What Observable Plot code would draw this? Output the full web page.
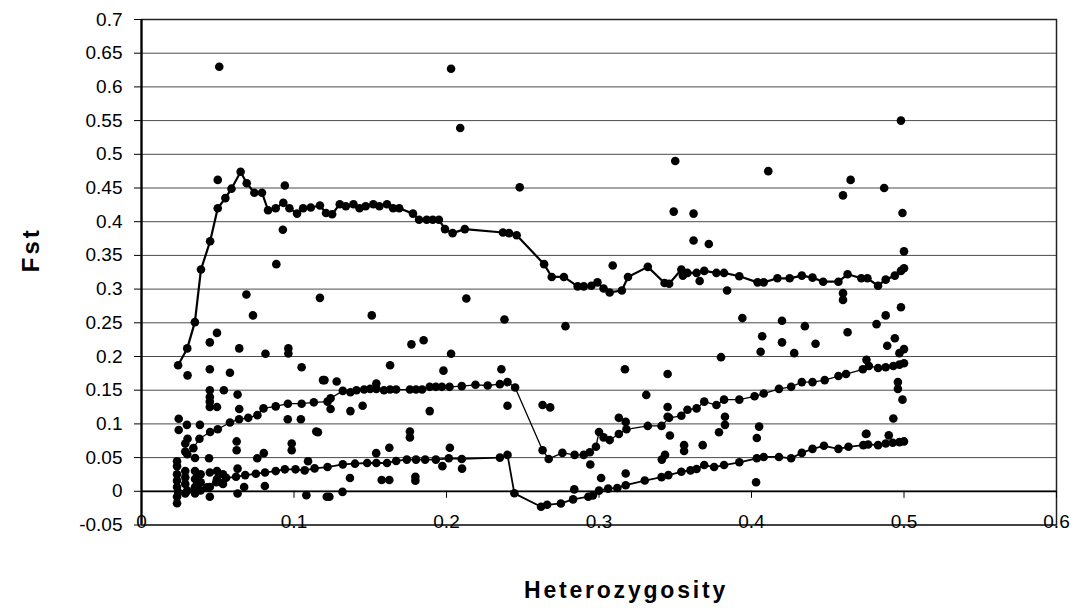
<!DOCTYPE html>
<html><head><meta charset="utf-8">
<script src="https://cdn.jsdelivr.net/npm/d3@7"></script>
<script src="https://cdn.jsdelivr.net/npm/@observablehq/plot@0.6"></script>
<style>
body{margin:0;background:#fff;}
#chart{width:1091px;height:608px;}
</style></head><body><div id="chart"></div>
<script>
const upperLine = [[0.024,0.187],[0.030,0.212],[0.035,0.251],[0.039,0.329],[0.045,0.371],[0.050,0.420],[0.055,0.435],[0.059,0.449],[0.065,0.474],[0.069,0.457],[0.074,0.443],[0.079,0.443],[0.083,0.417],[0.088,0.420],[0.093,0.428],[0.097,0.420],[0.102,0.412],[0.106,0.420],[0.111,0.421],[0.117,0.424],[0.121,0.413],[0.125,0.411],[0.130,0.426],[0.134,0.423],[0.139,0.426],[0.143,0.420],[0.147,0.423],[0.152,0.426],[0.156,0.423],[0.161,0.426],[0.165,0.420],[0.169,0.420],[0.178,0.412],[0.182,0.403],[0.187,0.403],[0.191,0.403],[0.195,0.403],[0.199,0.389],[0.204,0.383],[0.212,0.389],[0.237,0.384],[0.241,0.383],[0.246,0.380],[0.264,0.337],[0.269,0.318],[0.277,0.318],[0.286,0.304],[0.290,0.304],[0.295,0.305],[0.299,0.310],[0.303,0.301],[0.307,0.295],[0.315,0.298],[0.319,0.318],[0.332,0.333],[0.343,0.309],[0.346,0.308],[0.354,0.329],[0.355,0.320],[0.358,0.324],[0.364,0.324],[0.369,0.327],[0.377,0.324],[0.382,0.324],[0.392,0.319],[0.404,0.310],[0.408,0.310],[0.417,0.316],[0.425,0.316],[0.433,0.320],[0.440,0.317],[0.447,0.311],[0.457,0.311],[0.463,0.322],[0.472,0.316],[0.476,0.316],[0.483,0.305],[0.488,0.314],[0.494,0.320],[0.498,0.327],[0.500,0.331]];

const middleLine = [[0.030,0.055],[0.034,0.064],[0.038,0.078],[0.045,0.088],[0.050,0.092],[0.058,0.102],[0.064,0.107],[0.070,0.109],[0.076,0.113],[0.080,0.123],[0.088,0.126],[0.096,0.130],[0.105,0.130],[0.113,0.132],[0.122,0.133],[0.124,0.138],[0.132,0.149],[0.137,0.147],[0.141,0.150],[0.146,0.151],[0.150,0.152],[0.154,0.152],[0.159,0.150],[0.163,0.151],[0.167,0.151],[0.176,0.151],[0.180,0.151],[0.184,0.151],[0.189,0.155],[0.193,0.155],[0.197,0.155],[0.202,0.155],[0.210,0.156],[0.219,0.158],[0.227,0.157],[0.235,0.159],[0.240,0.162],[0.245,0.154],[0.263,0.061],[0.267,0.048],[0.276,0.057],[0.284,0.054],[0.290,0.054],[0.294,0.058],[0.298,0.066],[0.300,0.088],[0.303,0.080],[0.307,0.076],[0.313,0.085],[0.318,0.092],[0.332,0.097],[0.341,0.097],[0.346,0.109],[0.354,0.112],[0.358,0.121],[0.364,0.123],[0.369,0.133],[0.377,0.128],[0.382,0.136],[0.392,0.136],[0.402,0.141],[0.408,0.145],[0.418,0.152],[0.426,0.155],[0.433,0.162],[0.440,0.162],[0.448,0.165],[0.457,0.171],[0.462,0.174],[0.473,0.181],[0.477,0.186],[0.483,0.183],[0.488,0.184],[0.493,0.186],[0.497,0.188],[0.500,0.190]];

const lowerLine = [[0.024,-0.001],[0.030,0.001],[0.036,0.004],[0.043,0.006],[0.049,0.0135],[0.0555,0.020],[0.062,0.0215],[0.068,0.024],[0.075,0.026],[0.081,0.028],[0.088,0.030],[0.094,0.0326],[0.101,0.0326],[0.107,0.031],[0.1135,0.034],[0.122,0.036],[0.132,0.040],[0.140,0.041],[0.148,0.042],[0.154,0.042],[0.161,0.042],[0.167,0.045],[0.174,0.047],[0.180,0.047],[0.186,0.047],[0.193,0.047],[0.2015,0.049],[0.210,0.048],[0.235,0.050],[0.240,0.054],[0.2445,-0.003],[0.262,-0.023],[0.266,-0.020],[0.275,-0.018],[0.283,-0.012],[0.293,-0.008],[0.296,-0.006],[0.300,0.001],[0.306,0.004],[0.312,0.005],[0.3175,0.009],[0.330,0.016],[0.341,0.021],[0.3455,0.024],[0.354,0.029],[0.360,0.031],[0.364,0.033],[0.369,0.039],[0.3755,0.036],[0.382,0.039],[0.392,0.043],[0.4035,0.049],[0.408,0.051],[0.418,0.051],[0.426,0.049],[0.433,0.057],[0.440,0.063],[0.4475,0.0675],[0.457,0.063],[0.4636,0.066],[0.4733,0.0685],[0.4765,0.0695],[0.483,0.0685],[0.488,0.071],[0.4926,0.072],[0.497,0.073],[0.500,0.074]];

const scatterHigh = [[0.051,0.630],[0.203,0.627],[0.209,0.539],[0.498,0.550],[0.050,0.462],[0.0940,0.4536],[0.248,0.451],[0.350,0.490],[0.411,0.475],[0.465,0.462],[0.460,0.439],[0.487,0.450],[0.499,0.413],[0.349,0.415],[0.362,0.412],[0.0927,0.388],[0.362,0.372],[0.372,0.367],[0.500,0.356],[0.0884,0.337],[0.309,0.335],[0.366,0.312],[0.384,0.298],[0.460,0.294],[0.460,0.284],[0.0688,0.292],[0.117,0.287],[0.213,0.286],[0.0731,0.261],[0.151,0.261],[0.238,0.255],[0.278,0.245],[0.394,0.257],[0.420,0.253],[0.435,0.245],[0.463,0.236],[0.482,0.248],[0.488,0.261],[0.498,0.273],[0.0495,0.235],[0.0448,0.221],[0.0641,0.212],[0.0813,0.204],[0.0963,0.212],[0.0963,0.2045],[0.105,0.184],[0.119,0.165],[0.177,0.218],[0.185,0.224],[0.203,0.204],[0.407,0.230],[0.420,0.221],[0.442,0.219],[0.406,0.207],[0.428,0.205],[0.380,0.199],[0.4754,0.195],[0.494,0.227],[0.489,0.216],[0.500,0.211],[0.497,0.205],[0.163,0.187],[0.198,0.179],[0.236,0.181],[0.317,0.181],[0.345,0.174],[0.0302,0.172],[0.0448,0.181],[0.058,0.176]];

const scatterMid = [[0.0448,0.150],[0.0448,0.140],[0.0448,0.133],[0.0448,0.125],[0.0495,0.125],[0.054,0.150],[0.063,0.1435],[0.0641,0.122],[0.120,0.165],[0.128,0.163],[0.154,0.160],[0.124,0.122],[0.137,0.119],[0.145,0.127],[0.189,0.119],[0.240,0.127],[0.263,0.128],[0.268,0.1245],[0.331,0.143],[0.313,0.109],[0.3175,0.103],[0.345,0.125],[0.345,0.1105],[0.3826,0.1105],[0.3826,0.0986],[0.405,0.096],[0.0244,0.1077],[0.0244,0.091],[0.0298,0.0986],[0.0383,0.0986],[0.0302,0.078],[0.0624,0.074],[0.0624,0.061],[0.0959,0.1068],[0.1045,0.1068],[0.1146,0.0886],[0.0985,0.071],[0.0985,0.061],[0.1157,0.0876],[0.176,0.0886],[0.176,0.080],[0.1625,0.0646],[0.1539,0.0566],[0.2022,0.0646],[0.3465,0.0828],[0.3558,0.0685],[0.3558,0.0599],[0.3433,0.0541],[0.3412,0.047],[0.3787,0.0876],[0.4035,0.079],[0.368,0.0685],[0.4754,0.0853],[0.496,0.162],[0.496,0.152],[0.499,0.136],[0.493,0.108],[0.475,0.085],[0.490,0.083]];

const scatterLow = [[0.0443,0.049],[0.0759,0.049],[0.0802,0.0566],[0.063,0.0336],[0.0809,0.0078],[0.1092,0.0445],[0.1081,-0.0057],[0.1215,-0.008],[0.0233,-0.0177],[0.0448,-0.008],[0.063,-0.0033],[0.0673,0.0063],[0.1973,0.0373],[0.2102,0.0336],[0.1367,0.0197],[0.1575,0.0168],[0.1625,0.0168],[0.1796,0.0215],[0.1796,0.0158],[0.1318,-0.0009],[0.1232,-0.008],[0.2943,0.0398],[0.3014,0.0197],[0.3175,0.0264],[0.2838,0.0029],[0.403,0.0135],
[0.0233,0.0445],[0.0233,0.0373],[0.0233,0.0254],[0.0233,0.0158],[0.0233,0.0063],[0.0233,-0.008],
[0.0287,0.0709],[0.0287,0.0589],[0.0287,0.0301],[0.0287,0.0207],[0.0287,0.011],[0.0287,-0.0033],
[0.0351,0.0494],[0.0351,0.0301],[0.0351,0.0182],[0.0351,0.0063],[0.0351,-0.0033],
[0.0388,0.0254],[0.0388,0.0135],[0.0388,0.0014],[0.0448,0.0278],[0.0448,0.0063],[0.0495,0.0301],[0.0495,0.0182],[0.0534,0.0254],[0.0534,0.011]];

const yTicks = [0.7,0.65,0.6,0.55,0.5,0.45,0.4,0.35,0.3,0.25,0.2,0.15,0.1,0.05,0,-0.05];
const yTickLabels = ["0.7","0.65","0.6","0.55","0.5","0.45","0.4","0.35","0.3","0.25","0.2","0.15","0.1","0.05","0","-0.05"];
const xTicks = [0,0.1,0.2,0.3,0.4,0.5,0.6];
const xTickLabels = ["0","0.1","0.2","0.3","0.4","0.5","0.6"];
const xTitle = "Heterozygosity";
const yTitle = "Fst";

const W = 1091, H = 608, mTop = 19, mBottom = 83.5, mLeft = 141, mRight = 35;
const yDomain = [-0.05, 0.7];
// pixel offset of the y = 0 axis line above the bottom of the frame
const axisShift = (0 - yDomain[0]) * (H - mTop - mBottom) / (yDomain[1] - yDomain[0]);

const px = d => d[0], py = d => d[1];
const R = 4.3;
const plot = Plot.plot({
  width: W, height: H,
  marginLeft: mLeft, marginRight: mRight, marginTop: mTop, marginBottom: mBottom,
  style: {fontFamily: "'Liberation Sans', Arial, sans-serif", background: "#fff", color: "#000", overflow: "visible"},
  x: {domain: [0, 0.6], axis: null},
  y: {domain: yDomain, axis: null},
  marks: [
    Plot.gridY(yTicks, {stroke: "#4a4a4a", strokeOpacity: 1, strokeWidth: 1}),
    Plot.frame({stroke: "#222", strokeWidth: 1.5}),
    Plot.ruleY([0], {stroke: "#000", strokeWidth: 1.8}),
    Plot.ruleX([0], {stroke: "#000", strokeWidth: 2.2}),
    Plot.axisY(yTicks, {anchor: "left", tickSize: 7, tickPadding: 12, fontSize: 19, stroke: "#000", fill: "#000",
      tickFormat: d => yTickLabels[yTicks.indexOf(d)], label: null}),
    Plot.axisX(xTicks, {anchor: "bottom", dy: -axisShift, tickSize: 7, tickPadding: 16, fontSize: 19, stroke: "#000", fill: "#000",
      tickFormat: d => xTickLabels[xTicks.indexOf(d)], label: null}),
    Plot.line(upperLine, {x: px, y: py, stroke: "#000", strokeWidth: 2.2}),
    Plot.line(middleLine, {x: px, y: py, stroke: "#000", strokeWidth: 1.3}),
    Plot.line(lowerLine, {x: px, y: py, stroke: "#000", strokeWidth: 1.8}),
    Plot.dot(upperLine, {x: px, y: py, r: R, fill: "#000"}),
    Plot.dot(middleLine, {x: px, y: py, r: R, fill: "#000"}),
    Plot.dot(lowerLine, {x: px, y: py, r: R, fill: "#000"}),
    Plot.dot(scatterHigh, {x: px, y: py, r: R, fill: "#000"}),
    Plot.dot(scatterMid, {x: px, y: py, r: R, fill: "#000"}),
    Plot.dot(scatterLow, {x: px, y: py, r: R, fill: "#000"}),
    Plot.text([xTitle], {frameAnchor: "bottom", dx: 27, dy: 66, fontSize: 23, fontWeight: "bold", fill: "#000", lineAnchor: "middle"}),
    Plot.text([yTitle], {frameAnchor: "left", dx: -110, rotate: -90, fontSize: 24, fontWeight: "bold", fill: "#000"})
  ]
});
d3.select(plot).selectAll("text").filter(function(){ return this.textContent === xTitle; }).attr("letter-spacing", "2.8px");
d3.select(plot).selectAll("text").filter(function(){ return this.textContent === yTitle; }).attr("letter-spacing", "3px");
document.getElementById("chart").appendChild(plot);
</script>
</body></html>
